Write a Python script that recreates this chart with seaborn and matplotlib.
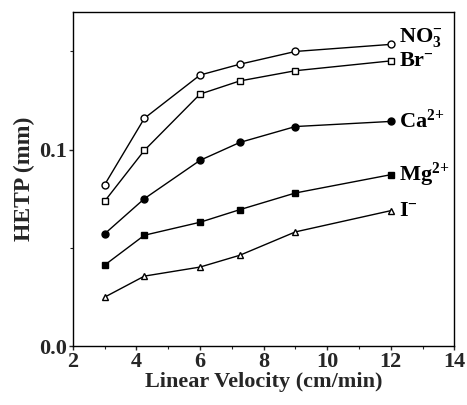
import matplotlib
matplotlib.use("Agg")
import matplotlib.pyplot as plt
import seaborn as sns
import pandas as pd
from matplotlib.ticker import MultipleLocator

velocity = [3, 4.25, 6, 7.25, 9, 12]
no3 = [0.0822, 0.116, 0.138, 0.1435, 0.150, 0.1536]
br = [0.0738, 0.0997, 0.1283, 0.135, 0.1402, 0.1452]
ca = [0.0572, 0.0751, 0.0946, 0.1037, 0.1118, 0.1144]
mg = [0.0413, 0.0565, 0.0631, 0.0695, 0.078, 0.0873]
iod = [0.025, 0.0357, 0.0403, 0.0463, 0.0582, 0.069]

series_names = ["NO3", "Br", "Ca", "Mg", "I"]
series_values = [no3, br, ca, mg, iod]
series_labels = [r"NO$_3^{\mathdefault{-}}$", r"Br$^{\mathdefault{-}}$", r"Ca$^{2{+}}$",
                 r"Mg$^{2{+}}$", r"I$^{\mathdefault{-}}$"]
markers = {"NO3": "o", "Br": "s", "Ca": "o", "Mg": "s", "I": "^"}
facecolors = {"NO3": "white", "Br": "white", "Ca": "black", "Mg": "black", "I": "white"}
label_dy = {"NO3": 5, "Br": 0, "Ca": 0, "Mg": 0, "I": 0}

sns.set_style("ticks")
plt.rcParams["font.family"] = ["Liberation Serif", "DejaVu Serif"]
plt.rcParams["font.weight"] = "bold"
plt.rcParams["mathtext.fontset"] = "custom"
plt.rcParams["mathtext.rm"] = "Liberation Serif:bold"
plt.rcParams["mathtext.it"] = "Liberation Serif:bold"
plt.rcParams["mathtext.bf"] = "Liberation Serif:bold"
plt.rcParams["mathtext.default"] = "rm"

rows = []
for name, vals in zip(series_names, series_values):
    for v, h in zip(velocity, vals):
        rows.append({"series": name, "velocity": v, "hetp": h})
df = pd.DataFrame(rows)

fig = plt.figure(figsize=(4.67, 4.05), dpi=100)
ax = fig.add_axes([0.156, 0.145, 0.817, 0.825])

for name in series_names:
    sub = df[df["series"] == name]
    sns.lineplot(data=sub, x="velocity", y="hetp", ax=ax, color="black",
                 linewidth=1.0, marker=markers[name], markersize=5,
                 markerfacecolor=facecolors[name], markeredgecolor="black",
                 markeredgewidth=1.0, legend=False)

for name, vals, lab in zip(series_names, series_values, series_labels):
    ax.annotate(lab, xy=(velocity[-1], vals[-1]), xytext=(6, label_dy[name]),
                textcoords="offset points", ha="left", va="center",
                fontsize=16, fontweight="bold", color="black")

ax.set_xlim(2, 14)
ax.set_ylim(0, 0.170)
ax.set_xticks([2, 4, 6, 8, 10, 12, 14])
ax.xaxis.set_minor_locator(MultipleLocator(1))
ax.set_yticks([0.0, 0.1])
ax.set_yticklabels(["0.0", "0.1"])
ax.yaxis.set_minor_locator(MultipleLocator(0.05))
ax.tick_params(axis="both", which="major", direction="out", length=3, width=1,
               labelsize=16, pad=1)
ax.tick_params(axis="both", which="minor", direction="out", length=2, width=0.8)
for lbl in ax.get_xticklabels() + ax.get_yticklabels():
    lbl.set_fontweight("bold")

ax.set_xlabel("Linear Velocity (cm/min)", fontsize=16, fontweight="bold", labelpad=0)
ax.set_ylabel("HETP (mm)", fontsize=17, fontweight="bold", labelpad=3)

for sp in ax.spines.values():
    sp.set_visible(True)
    sp.set_linewidth(1.0)
    sp.set_color("black")

fig.savefig("out.png", dpi=100)
